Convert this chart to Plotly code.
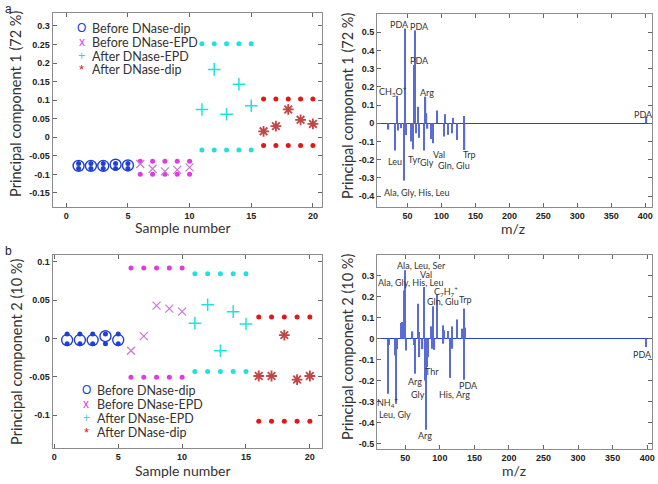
import plotly.graph_objects as go

# ---------------- data: scores ----------------
s_bdip = [1, 2, 3, 4, 5]
s_bepd = [6, 7, 8, 9, 10]
s_aepd = [11, 12, 13, 14, 15]
s_adip = [16, 17, 18, 19, 20]

pc1_bdip = [-0.077, -0.077, -0.077, -0.074, -0.076]
pc1_bdip_hi = [-0.0705, -0.0705, -0.0705, -0.0705, -0.0705]
pc1_bdip_lo = [-0.084, -0.084, -0.084, -0.084, -0.084]
pc1_bepd = [-0.072, -0.085, -0.092, -0.088, -0.081]
pc1_bepd_hi = [-0.065, -0.065, -0.065, -0.065, -0.065]
pc1_bepd_lo = [-0.100, -0.100, -0.100, -0.100, -0.100]
pc1_aepd = [0.075, 0.183, 0.062, 0.143, 0.085]
pc1_aepd_hi = [0.252, 0.252, 0.252, 0.252, 0.252]
pc1_aepd_lo = [-0.034, -0.034, -0.034, -0.034, -0.034]
pc1_adip = [0.016, 0.030, 0.075, 0.047, 0.036]
pc1_adip_hi = [0.103, 0.103, 0.103, 0.103, 0.103]
pc1_adip_lo = [-0.022, -0.022, -0.022, -0.022, -0.022]

pc2_bdip = [-0.002, -0.002, -0.002, 0.003, -0.002]
pc2_bdip_hi = [0.006, 0.006, 0.006, 0.006, 0.006]
pc2_bdip_lo = [-0.007, -0.007, -0.007, -0.007, -0.007]
pc2_bepd = [-0.016, 0.003, 0.043, 0.039, 0.035]
pc2_bepd_hi = [0.092, 0.092, 0.092, 0.092, 0.092]
pc2_bepd_lo = [-0.0505, -0.0505, -0.0505, -0.0505, -0.0505]
pc2_aepd = [0.020, 0.044, -0.016, 0.035, 0.019]
pc2_aepd_hi = [0.0845, 0.0845, 0.0845, 0.0845, 0.0845]
pc2_aepd_lo = [-0.043, -0.043, -0.043, -0.043, -0.043]
pc2_adip = [-0.049, -0.049, 0.0044, -0.0536, -0.049]
pc2_adip_hi = [0.028, 0.028, 0.028, 0.028, 0.028]
pc2_adip_lo = [-0.108, -0.108, -0.108, -0.108, -0.108]

group_names = ["Before DNase-dip", "Before DNase-EPD", "After DNase-EPD", "After DNase-dip"]

# ---------------- data: loadings ----------------
mz_pc1 = [22, 31.5, 34, 35.5, 41, 45, 46, 47.5, 55, 58.5,
          60, 61, 63, 65.5, 66.5, 74.5, 76.5, 78, 79.5, 85,
          87.5, 94, 103.5, 104.7, 109.5, 115.5, 116.5, 123, 133, 134,
          402]
load_pc1 = [-0.035, -0.15, 0.15, -0.04, -0.027, -0.315, 0.52, -0.065, -0.10, -0.143,
            0.32, 0.51, -0.055, 0.09, -0.08, -0.15, 0.146, 0.055, -0.03, -0.087,
            -0.11, 0.07, -0.073, 0.05, -0.064, -0.055, 0.03, -0.092, 0.04, -0.147,
            0.037]

mz_pc2 = [25, 26, 35, 37, 38.5, 43.8, 45.2, 47.6, 49, 50,
          51.2, 60.5, 62, 64.4, 68.2, 69.5, 70.5, 75, 77, 78.2,
          79.7, 81.3, 83, 87.5, 88.5, 89.5, 92.2, 95.5, 104.2, 105.2,
          106.6, 112.3, 114.7, 117.1, 118.2, 124.3, 132.9, 134.5, 135.5, 136.5,
          398.6]
load_pc2 = [-0.263, -0.03, -0.08, -0.311, -0.05, 0.075, 0.08, 0.231, 0.037, 0.327,
            -0.056, 0.035, -0.03, -0.167, 0.167, 0.032, -0.088, -0.05, 0.247, -0.2,
            -0.435, -0.135, -0.088, 0.059, -0.048, 0.155, -0.053, 0.21, 0.064, -0.024,
            0.04, 0.037, -0.187, 0.059, -0.048, 0.092, 0.048, 0.144, -0.196, 0.053,
            -0.04]

# peak labels (text, m/z, value)
lab_pc1 = [("PDA", 38.8, 0.544), ("PDA", 68, 0.531), ("PDA", 68, 0.342),
           ("CH<sub>3</sub>O<sup>+</sup>", 29, 0.174), ("Arg", 79.3, 0.170),
           ("PDA", 397.6, 0.049), ("Leu", 31.5, -0.21), ("Tyr", 60, -0.20),
           ("Gly", 78, -0.216), ("Val", 97, -0.17), ("Gln, Glu", 118, -0.233),
           ("Trp", 141, -0.17), ("Ala, Gly, His, Leu", 64.6, -0.38)]
lab_pc2 = [("Ala, Leu, Ser", 73, 0.348), ("Val", 79.7, 0.305),
           ("Ala, Gly, His, Leu", 58.2, 0.271), ("C<sub>7</sub>H<sub>7</sub><sup>+</sup>", 108.5, 0.228),
           ("Gln, Glu", 105, 0.179), ("Trp", 137.7, 0.188), ("PDA", 392.8, -0.077),
           ("Thr", 89.3, -0.156), ("Arg", 63.4, -0.204), ("PDA", 141, -0.223),
           ("Gly", 68.2, -0.268), ("His, Arg", 121, -0.266),
           ("NH<sub>4</sub><sup>+</sup>", 23.6, -0.303), ("Leu, Gly", 35.6, -0.362),
           ("Arg", 78.8, -0.462)]

# ticks
tick_sample = [0, 5, 10, 15, 20]
tick_sample_txt = ["0", "5", "10", "15", "20"]
tick_mz = [50, 100, 150, 200, 250, 300, 350, 400]
tick_mz_txt = ["50", "100", "150", "200", "250", "300", "350", "400"]
tick_pc1 = [0.3, 0.25, 0.2, 0.15, 0.1, 0.05, 0, -0.05, -0.1, -0.15]
tick_pc1_txt = ["0.3", "0.25", "0.2", "0.15", "0.1", "0.05", "0", "-0.05", "-0.1", "-0.15"]
tick_l1 = [0.5, 0.4, 0.3, 0.2, 0.1, 0, -0.1, -0.2, -0.3, -0.4]
tick_l1_txt = ["0.5", "0.4", "0.3", "0.2", "0.1", "0", "-0.1", "-0.2", "-0.3", "-0.4"]
tick_pc2 = [0.1, 0.05, 0, -0.05, -0.1]
tick_pc2_txt = ["0.1", "0.05", "0", "-0.05", "-0.1"]
tick_l2 = [0.3, 0.2, 0.1, 0, -0.1, -0.2, -0.3, -0.4, -0.5]
tick_l2_txt = ["0.3", "0.2", "0.1", "0", "-0.1", "-0.2", "-0.3", "-0.4", "-0.5"]

# ---------------- style ----------------
C_BLUE = "#1f3fd8"
C_MAG = "#e03ae0"
C_MAG_X = "#c878d0"
C_CYAN = "#22e0e0"
C_RED = "#e01818"
C_RED_S = "#c04848"
C_BAR = "#5a6cd4"
TXT = "#333333"
FONT = "Lato"

fig = go.Figure()


def dots(x, y, color, xa, ya):
    fig.add_trace(go.Scatter(x=x, y=y, mode="markers", xaxis=xa, yaxis=ya, showlegend=False,
                             marker=dict(symbol="circle", size=5, color=color)))


def scores(xa, ya, data):
    (b, bh, bl, e, eh, el, a, ah, al, d, dh, dl) = data
    dots(s_bdip, bh, C_BLUE, xa, ya)
    dots(s_bdip, bl, C_BLUE, xa, ya)
    fig.add_trace(go.Scatter(x=s_bdip, y=b, mode="markers", xaxis=xa, yaxis=ya, name=group_names[0],
                             showlegend=False,
                             marker=dict(symbol="circle-open", size=11, color=C_BLUE, line=dict(width=1.4))))
    dots(s_bepd, eh, C_MAG, xa, ya)
    dots(s_bepd, el, C_MAG, xa, ya)
    fig.add_trace(go.Scatter(x=s_bepd, y=e, mode="markers", xaxis=xa, yaxis=ya, name=group_names[1],
                             showlegend=False,
                             marker=dict(symbol="x-thin-open", size=8, color=C_MAG_X, line=dict(width=1.2, color=C_MAG_X))))
    dots(s_aepd, ah, C_CYAN, xa, ya)
    dots(s_aepd, al, C_CYAN, xa, ya)
    fig.add_trace(go.Scatter(x=s_aepd, y=a, mode="markers", xaxis=xa, yaxis=ya, name=group_names[2],
                             showlegend=False,
                             marker=dict(symbol="cross-thin-open", size=9, color=C_CYAN, line=dict(width=1.5, color=C_CYAN))))
    dots(s_adip, dh, C_RED, xa, ya)
    dots(s_adip, dl, C_RED, xa, ya)
    fig.add_trace(go.Scatter(x=s_adip, y=d, mode="markers", xaxis=xa, yaxis=ya, name=group_names[3],
                             showlegend=False,
                             marker=dict(symbol="asterisk-open", size=9, color=C_RED_S, line=dict(width=1.8, color="#dcb4b4"))))
    fig.add_trace(go.Scatter(x=s_adip, y=d, mode="markers", xaxis=xa, yaxis=ya, showlegend=False,
                             marker=dict(symbol="asterisk-open", size=6, color=C_RED_S, line=dict(width=1, color="#c02020"))))


scores("x", "y", (pc1_bdip, pc1_bdip_hi, pc1_bdip_lo, pc1_bepd, pc1_bepd_hi, pc1_bepd_lo,
                  pc1_aepd, pc1_aepd_hi, pc1_aepd_lo, pc1_adip, pc1_adip_hi, pc1_adip_lo))
scores("x3", "y3", (pc2_bdip, pc2_bdip_hi, pc2_bdip_lo, pc2_bepd, pc2_bepd_hi, pc2_bepd_lo,
                    pc2_aepd, pc2_aepd_hi, pc2_aepd_lo, pc2_adip, pc2_adip_hi, pc2_adip_lo))

fig.add_trace(go.Bar(x=mz_pc1, y=load_pc1, xaxis="x2", yaxis="y2", width=1.8, showlegend=False,
                     marker=dict(color=C_BAR, line=dict(width=0))))
fig.add_trace(go.Bar(x=mz_pc2, y=load_pc2, xaxis="x4", yaxis="y4", width=1.8, showlegend=False,
                     marker=dict(color=C_BAR, line=dict(width=0))))

W, H = 658, 484


def px_x(p):
    return p / W


def px_y(p):
    return 1 - p / H


ax_common = dict(showline=True, mirror="ticks", linecolor="#8c8c8c", linewidth=1, ticks="inside",
                 ticklen=4, tickcolor="#666666", showgrid=False, zeroline=False,
                 tickfont=dict(family="Arial", size=9, color="#222222", weight="bold"),
                 tickmode="array")

fig.update_layout(
    width=W, height=H, margin=dict(l=0, r=0, t=0, b=0),
    paper_bgcolor="white", plot_bgcolor="white", showlegend=False, barmode="overlay",
    xaxis=dict(ax_common, domain=[px_x(52), px_x(322.5)], range=[-1.1, 20.7], anchor="y",
               tickvals=tick_sample, ticktext=tick_sample_txt),
    yaxis=dict(ax_common, domain=[px_y(207), px_y(13)], range=[-0.188, 0.335], anchor="x",
               tickvals=tick_pc1, ticktext=tick_pc1_txt),
    xaxis2=dict(ax_common, domain=[px_x(378.3), px_x(655)], range=[5, 410], anchor="y2",
                tickvals=tick_mz, ticktext=tick_mz_txt),
    yaxis2=dict(ax_common, domain=[px_y(207), px_y(14)], range=[-0.46, 0.6], anchor="x2",
                tickvals=tick_l1, ticktext=tick_l1_txt,
                zeroline=True, zerolinecolor="#2a40d0", zerolinewidth=1),
    xaxis3=dict(ax_common, domain=[px_x(52), px_x(322.7)], range=[-0.13, 20.93], anchor="y3",
                tickvals=tick_sample, ticktext=tick_sample_txt),
    yaxis3=dict(ax_common, domain=[px_y(448), px_y(255)], range=[-0.143, 0.109], anchor="x3",
                tickvals=tick_pc2, ticktext=tick_pc2_txt),
    xaxis4=dict(ax_common, domain=[px_x(378.3), px_x(655)], range=[9, 407], anchor="y4",
                tickvals=tick_mz, ticktext=tick_mz_txt),
    yaxis4=dict(ax_common, domain=[px_y(449), px_y(255)], range=[-0.527, 0.4], anchor="x4",
                tickvals=tick_l2, ticktext=tick_l2_txt,
                zeroline=True, zerolinecolor="#2a40d0", zerolinewidth=1),
)

ann = []
# peak labels
lab_font = dict(family=FONT, size=9, color=TXT)
for (t, x, y) in lab_pc1:
    ann.append(dict(text=t, x=x, y=y, xref="x2", yref="y2", showarrow=False,
                    xanchor="center", yanchor="middle", font=lab_font))
for (t, x, y) in lab_pc2:
    ann.append(dict(text=t, x=x, y=y, xref="x4", yref="y4", showarrow=False,
                    xanchor="center", yanchor="middle", font=lab_font))

# axis titles
ytitle_font = dict(family=FONT, size=14.5, color="#333333")
xtitle_font = dict(family=FONT, size=14, color="#333333")
titles = [
    dict(text="Principal component 1 (72 %)", x=px_x(15), y=px_y(104), textangle=-90, font=ytitle_font),
    dict(text="Principal component 1 (72 %)", x=px_x(348), y=px_y(106), textangle=-90, font=ytitle_font),
    dict(text="Principal component 2 (10 %)", x=px_x(15), y=px_y(352), textangle=-90, font=ytitle_font),
    dict(text="Principal component 2 (10 %)", x=px_x(348), y=px_y(347), textangle=-90, font=ytitle_font),
    dict(text="Sample number", x=px_x(183), y=px_y(227), font=xtitle_font),
    dict(text="m/z", x=px_x(515), y=px_y(228), font=xtitle_font),
    dict(text="Sample number", x=px_x(183), y=px_y(470), font=xtitle_font),
    dict(text="m/z", x=px_x(516), y=px_y(470), font=xtitle_font),
]
for a in titles:
    a.update(xref="paper", yref="paper", showarrow=False, xanchor="center", yanchor="middle")
ann += titles

# panel letters
ann += [
    dict(text="a", x=px_x(2), y=px_y(0), xanchor="left", yanchor="top", xref="paper", yref="paper",
         showarrow=False, font=dict(family="Arial", size=12, color="#222")),
    dict(text="b", x=px_x(2), y=px_y(242), xanchor="left", yanchor="top", xref="paper", yref="paper",
         showarrow=False, font=dict(family="Arial", size=12, color="#222")),
]

# legends (symbol + text)
leg_sym = ["O", "x", "+", "*"]
leg_col = [C_BLUE, C_MAG, C_CYAN, C_RED]
for (sx, tx, rows) in [(81, 90, [28, 42, 56, 70]), (86, 95, [390, 404, 418, 432])]:
    for i in range(4):
        ann.append(dict(text=leg_sym[i], x=px_x(sx), y=px_y(rows[i]), xref="paper", yref="paper",
                        showarrow=False, xanchor="center", yanchor="middle",
                        font=dict(family="Arial", size=12 if i != 3 else 13, color=leg_col[i])))
        ann.append(dict(text=group_names[i], x=px_x(tx), y=px_y(rows[i]), xref="paper", yref="paper",
                        showarrow=False, xanchor="left", yanchor="middle",
                        font=dict(family=FONT, size=12.5, color="#333333")))

fig.update_layout(annotations=ann)
fig.write_html("out.html")
